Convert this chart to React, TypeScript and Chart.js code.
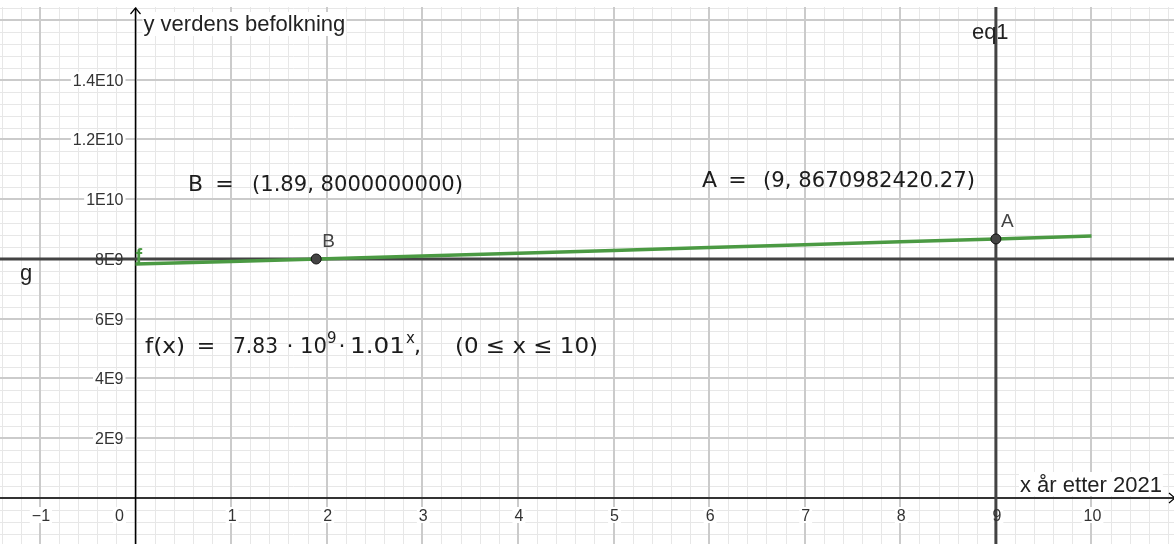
import React, { useEffect, useRef } from "react";
import { Chart, registerables } from "chart.js";

Chart.register(...registerables);

// Visible window of the graphics view (world coordinates)
const X_MIN = -1.4174;
const X_MAX = 10.863;
const Y_MIN = -1.54e9;
const Y_MAX = 16.435e9;

// Axis tick labels
const X_TICKS = [-1, 0, 1, 2, 3, 4, 5, 6, 7, 8, 9, 10];
const X_TICK_LABELS = ["\u22121", "0", "1", "2", "3", "4", "5", "6", "7", "8", "9", "10"];
const Y_TICKS = [2e9, 4e9, 6e9, 8e9, 1e10, 1.2e10, 1.4e10];
const Y_TICK_LABELS = ["2E9", "4E9", "6E9", "8E9", "1E10", "1.2E10", "1.4E10"];

// f: world population (years after 2021)
const F_X = [0, 1, 2, 3, 4, 5, 6, 7, 8, 9, 10];
const F_Y = [
  7.83e9, 7.9193e9, 8.0095e9, 8.1009e9, 8.1932e9, 8.2866e9,
  8.3811e9, 8.4766e9, 8.5732e9, 8.671e9, 8.7698e9,
];

// Points and helper lines
const POINT_A = { x: 9, y: 8670982420.27 };
const POINT_B = { x: 1.89, y: 8000000000 };
const G_Y = 8e9; // g: y = 8E9
const EQ1_X = 9; // eq1: x = 9

const SANS = "'Liberation Sans', Arial, sans-serif";
const MATH = "'DejaVu Sans', sans-serif";

function fitText(ctx: CanvasRenderingContext2D, text: string, x: number, baseline: number, width: number) {
  const w = ctx.measureText(text).width;
  ctx.save();
  ctx.translate(x, baseline);
  ctx.scale(width / w, 1);
  ctx.fillText(text, 0, 0);
  ctx.restore();
}

function centerText(ctx: CanvasRenderingContext2D, text: string, cx: number, baseline: number) {
  const w = ctx.measureText(text).width;
  ctx.fillText(text, cx - w / 2, baseline);
}

const geoPlugin = {
  id: "geoView",
  beforeDatasetsDraw(chart: any) {
    const { ctx, chartArea: a, scales } = chart;
    const xs = scales.x;
    const ys = scales.y;
    ctx.save();

    // grid: minor lines every 0.2 (x) and 0.4E9 (y), major every 1 and 2E9
    const xk0 = Math.ceil(X_MIN * 5);
    const xk1 = Math.floor(X_MAX * 5);
    const yk0 = Math.ceil(Y_MIN / 0.4e9);
    const yk1 = Math.floor(Y_MAX / 0.4e9);
    for (const major of [false, true]) {
      ctx.strokeStyle = major ? "#cbcbcb" : "#e7e7e7";
      ctx.lineWidth = major ? 2 : 1;
      for (let k = xk0; k <= xk1; k++) {
        if ((k % 5 === 0) !== major) continue;
        const px = xs.getPixelForValue(k / 5);
        const p = major ? Math.round(px) : Math.round(px) + 0.5;
        ctx.beginPath();
        ctx.moveTo(p, a.top);
        ctx.lineTo(p, a.bottom);
        ctx.stroke();
      }
      for (let k = yk0; k <= yk1; k++) {
        if ((k % 5 === 0) !== major) continue;
        const py = ys.getPixelForValue(k * 0.4e9);
        const p = major ? Math.round(py) : Math.round(py) + 0.5;
        ctx.beginPath();
        ctx.moveTo(a.left, p);
        ctx.lineTo(a.right, p);
        ctx.stroke();
      }
    }

    const x0 = xs.getPixelForValue(0);
    const y0 = ys.getPixelForValue(0);

    // axes
    ctx.strokeStyle = "#000";
    ctx.lineWidth = 1.5;
    ctx.beginPath();
    ctx.moveTo(a.left, y0);
    ctx.lineTo(a.right, y0);
    ctx.moveTo(x0, a.top + 1);
    ctx.lineTo(x0, a.bottom);
    ctx.stroke();
    ctx.lineWidth = 1.2;
    ctx.beginPath();
    ctx.moveTo(x0 - 5, a.top + 7);
    ctx.lineTo(x0, a.top + 1);
    ctx.lineTo(x0 + 5, a.top + 7);
    ctx.moveTo(a.right - 5, y0 - 5);
    ctx.lineTo(a.right + 1, y0);
    ctx.lineTo(a.right - 5, y0 + 5);
    ctx.stroke();

    // white backgrounds behind tick labels and axis titles
    ctx.fillStyle = "#fff";
    ctx.font = `16px ${SANS}`;
    Y_TICKS.forEach((v, i) => {
      const w = ctx.measureText(Y_TICK_LABELS[i]).width;
      const py = ys.getPixelForValue(v);
      ctx.fillRect(x0 - 12 - w - 2, py - 8, w + 4, 16);
    });
    X_TICKS.forEach((v, i) => {
      const w = ctx.measureText(X_TICK_LABELS[i]).width;
      const cx = v === 0 ? x0 - 16 : xs.getPixelForValue(v) + 1;
      ctx.fillRect(cx - w / 2 - 2, y0 + 9, w + 4, 16);
    });
    ctx.font = `22px ${SANS}`;
    const yt = "y verdens befolkning";
    ctx.fillRect(x0 + 7, a.top + 5, ctx.measureText(yt).width + 2, 24);
    const xt = "x \u00e5r etter 2021";
    ctx.fillRect(1019, y0 - 26, ctx.measureText(xt).width + 2, 24);
    ctx.restore();
  },
  afterDatasetsDraw(chart: any) {
    const { ctx, chartArea: a, scales } = chart;
    const xs = scales.x;
    const ys = scales.y;
    const x0 = xs.getPixelForValue(0);
    const y0 = ys.getPixelForValue(0);
    ctx.save();
    ctx.textBaseline = "alphabetic";
    ctx.textAlign = "left";

    // tick labels
    ctx.fillStyle = "#333";
    ctx.font = `16px ${SANS}`;
    Y_TICKS.forEach((v, i) => {
      const w = ctx.measureText(Y_TICK_LABELS[i]).width;
      const py = ys.getPixelForValue(v);
      ctx.fillText(Y_TICK_LABELS[i], x0 - 12 - w, py + 6);
    });
    X_TICKS.forEach((v, i) => {
      const cx = v === 0 ? x0 - 16 : xs.getPixelForValue(v) + 1;
      centerText(ctx, X_TICK_LABELS[i], cx, y0 + 23);
    });

    // axis titles
    ctx.fillStyle = "#222";
    ctx.font = `22px ${SANS}`;
    ctx.fillText("y verdens befolkning", x0 + 8, a.top + 24);
    ctx.fillText("x \u00e5r etter 2021", 1020, y0 - 6);

    // object labels
    ctx.fillText("eq1", xs.getPixelForValue(EQ1_X) - 24, 39);
    ctx.fillText("g", 20, ys.getPixelForValue(G_Y) + 21);
    ctx.fillStyle = "#444";
    ctx.font = `19px ${SANS}`;
    const pa = { x: xs.getPixelForValue(POINT_A.x), y: ys.getPixelForValue(POINT_A.y) };
    const pb = { x: xs.getPixelForValue(POINT_B.x), y: ys.getPixelForValue(POINT_B.y) };
    ctx.fillText("A", pa.x + 5, pa.y - 12);
    ctx.fillText("B", pb.x + 6, pb.y - 12);
    ctx.fillStyle = "#4b9a43";
    ctx.font = `bold 20px ${SANS}`;
    ctx.fillText("f", x0, ys.getPixelForValue(F_Y[0]) - 1);

    // algebra texts
    ctx.fillStyle = "#1c1c1c";
    ctx.font = `22px ${MATH}`;
    ctx.fillText("B", 188, 191);
    centerText(ctx, "=", 224.5, 191);
    fitText(ctx, "(1.89, 8000000000)", 252, 191, 211);

    ctx.fillText("A", 702, 187);
    centerText(ctx, "=", 737.5, 187);
    fitText(ctx, "(9, 8670982420.27)", 763, 187, 212);

    const fb = 353;
    fitText(ctx, "f(x)", 145, fb, 40);
    centerText(ctx, "=", 206, fb);
    fitText(ctx, "7.83", 233, fb, 45);
    centerText(ctx, "\u00b7", 290, fb);
    fitText(ctx, "10", 300, fb, 27);
    centerText(ctx, "\u00b7", 342, fb);
    fitText(ctx, "1.01", 350, fb, 55);
    ctx.fillText(",", 414, fb);
    fitText(ctx, "(0 \u2264 x \u2264 10)", 455, fb, 143);
    ctx.font = `15px ${MATH}`;
    ctx.fillText("9", 327, fb - 10);
    ctx.fillText("x", 406, fb - 10);

    ctx.restore();
  },
};

export default function App() {
  const canvasRef = useRef<HTMLCanvasElement | null>(null);

  useEffect(() => {
    document.body.style.margin = "0";
    const canvas = canvasRef.current;
    if (!canvas) return;
    const chart = new Chart(canvas, {
      type: "line",
      data: {
        datasets: [
          {
            label: "A",
            data: [POINT_A],
            showLine: false,
            pointRadius: 5,
            pointBackgroundColor: "#444",
            pointBorderColor: "#111",
            pointBorderWidth: 1,
          },
          {
            label: "B",
            data: [POINT_B],
            showLine: false,
            pointRadius: 5,
            pointBackgroundColor: "#444",
            pointBorderColor: "#111",
            pointBorderWidth: 1,
          },
          {
            label: "f",
            data: F_X.map((x, i) => ({ x, y: F_Y[i] })),
            borderColor: "#4b9a43",
            borderWidth: 3.5,
            pointRadius: 0,
            tension: 0,
            fill: false,
          },
          {
            label: "g",
            data: [
              { x: X_MIN, y: G_Y },
              { x: X_MAX, y: G_Y },
            ],
            borderColor: "#434343",
            borderWidth: 3,
            pointRadius: 0,
          },
          {
            label: "eq1",
            data: [
              { x: EQ1_X, y: Y_MIN },
              { x: EQ1_X, y: Y_MAX },
            ],
            borderColor: "#434343",
            borderWidth: 3,
            pointRadius: 0,
          },
        ],
      },
      options: {
        animation: false,
        responsive: false,
        devicePixelRatio: 1,
        layout: { autoPadding: false, padding: { top: 7, left: 0, right: 0, bottom: 0 } },
        plugins: { legend: { display: false }, tooltip: { enabled: false }, title: { display: false } },
        events: [],
        scales: {
          x: { type: "linear", min: X_MIN, max: X_MAX, display: false },
          y: { type: "linear", min: Y_MIN, max: Y_MAX, display: false },
        },
      },
      plugins: [geoPlugin],
    });
    return () => chart.destroy();
  }, []);

  return (
    <div style={{ position: "absolute", left: 0, top: 0, width: 1174, height: 544, background: "#fff" }}>
      <canvas ref={canvasRef} width={1174} height={544} style={{ display: "block" }} />
    </div>
  );
}
